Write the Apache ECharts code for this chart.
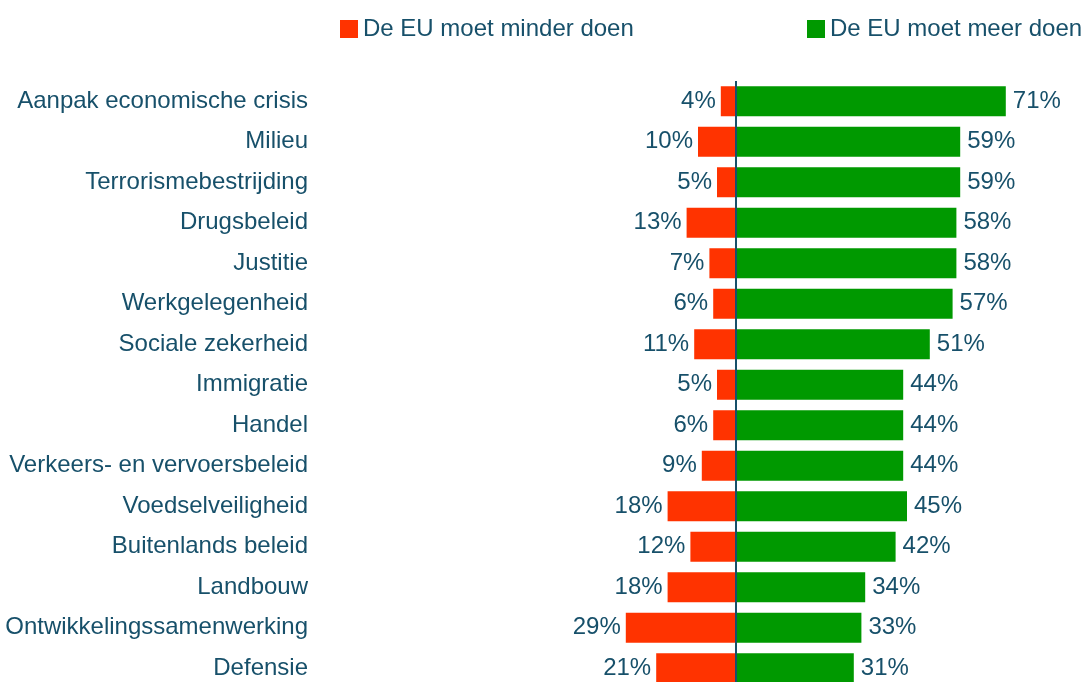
<!DOCTYPE html>
<html>
<head>
<meta charset="utf-8">
<script src="https://cdn.jsdelivr.net/npm/echarts@6/dist/echarts.min.js"></script>
<style>html,body{margin:0;padding:0;background:#fff;overflow:hidden;}#c{width:1082px;height:700px;}</style>
</head>
<body>
<div id="c"></div>
<script>
var categories = ["Aanpak economische crisis","Milieu","Terrorismebestrijding","Drugsbeleid","Justitie","Werkgelegenheid","Sociale zekerheid","Immigratie","Handel","Verkeers- en vervoersbeleid","Voedselveiligheid","Buitenlands beleid","Landbouw","Ontwikkelingssamenwerking","Defensie"];
var minder = [4,10,5,13,7,6,11,5,6,9,18,12,18,29,21];
var meer = [71,59,59,58,58,57,51,44,44,44,45,42,34,33,31];
var seriesNames = ["De EU moet minder doen","De EU moet meer doen"];

var txt = '#17506A';
var ff = 'Liberation Sans, Arial, sans-serif';
var fs = 24;
var chart = echarts.init(document.getElementById('c'));
chart.setOption({
  animation: false,
  textStyle: {fontFamily: ff},
  legend: [
    {data: [seriesNames[0]], left: 340, top: 17, padding: 0, icon: 'rect', itemWidth: 18, itemHeight: 18,
     textStyle: {color: txt, fontSize: fs, fontFamily: ff}, selectedMode: false},
    {data: [seriesNames[1]], left: 807, top: 17, padding: 0, icon: 'rect', itemWidth: 18, itemHeight: 18,
     textStyle: {color: txt, fontSize: fs, fontFamily: ff}, selectedMode: false}
  ],
  grid: {left: 318, width: 722, top: 81, height: 607.5, containLabel: false},
  xAxis: {type: 'value', min: -110, max: 80, show: false, splitLine: {show: false}},
  yAxis: {type: 'category', data: categories, inverse: true,
    axisLine: {show: false}, axisTick: {show: false},
    axisLabel: {color: txt, fontSize: fs, margin: 10, fontFamily: ff}},
  series: [
    {name: seriesNames[0], type: 'bar', stack: 'a', barWidth: 30,
     data: minder.map(function(v){return -v;}),
     itemStyle: {color: '#FF3300'},
     label: {show: true, position: 'left', distance: 5, color: txt, fontSize: fs, fontFamily: ff,
       formatter: function(p){return Math.abs(p.value) + '%';}}},
    {name: seriesNames[1], type: 'bar', stack: 'a', barWidth: 30,
     data: meer,
     itemStyle: {color: '#009900'},
     label: {show: true, position: 'right', distance: 7, color: txt, fontSize: fs, fontFamily: ff,
       formatter: function(p){return p.value + '%';}},
     markLine: {silent: true, symbol: 'none', label: {show: false},
       lineStyle: {color: txt, width: 2, type: 'solid'},
       data: [{xAxis: 0}]}}
  ]
});
</script>
</body>
</html>
